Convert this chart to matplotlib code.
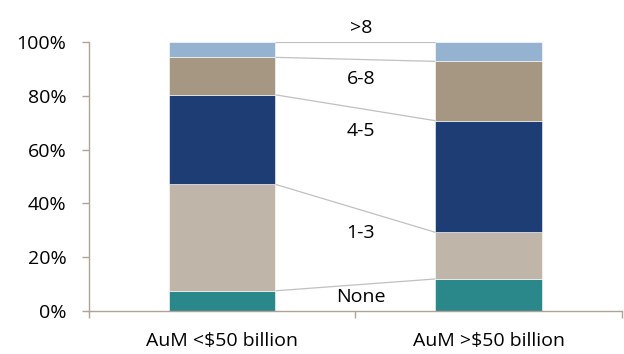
import matplotlib
matplotlib.use("Agg")
import matplotlib.pyplot as plt
import numpy as np
from matplotlib.ticker import PercentFormatter

categories = ["AuM <$50 billion", "AuM >$50 billion"]
segments = ["None", "1-3", "4-5", "6-8", ">8"]
small_aum = [7.6, 39.5, 33.2, 13.9, 5.8]
large_aum = [12.0, 17.3, 41.4, 22.0, 7.3]
colors = ["#2A878A", "#BFB6A9", "#1E3D75", "#A59782", "#95B3D0"]
yticks = [0, 20, 40, 60, 80, 100]
# label positions (value axis) for segment names between bars
label_y = [5.3, 29, 67, 86, 105]

plt.rcParams["font.family"] = ["Open Sans", "DejaVu Sans"]
axis_color = "#B0A395"
fs = 14

fig = plt.figure(figsize=(6.24, 3.54), dpi=100)
ax = fig.add_axes([0.142, 0.1206, 0.855, 0.7616])

values = np.array([small_aum, large_aum])
x = np.arange(len(categories))
width = 0.4
bottoms = np.zeros(len(categories))
for i, seg in enumerate(segments):
    ax.bar(x, values[:, i], width, bottom=bottoms, color=colors[i],
           edgecolor="white", linewidth=0.4, zorder=2)
    tops = bottoms + values[:, i]
    ax.plot([x[0] + width / 2, x[1] - width / 2], [tops[0], tops[1]],
            color="#C0C0C0", linewidth=0.9, zorder=1)
    ax.text(0.52, label_y[i], seg, ha="center", va="center",
            fontsize=fs, color="black")
    bottoms = tops

ax.set_xlim(-0.5, 1.5)
ax.set_ylim(0, 100)
ax.set_yticks(yticks)
ax.yaxis.set_major_formatter(PercentFormatter(decimals=0))
ax.set_xticks(x)
ax.set_xticklabels(categories)
ax.set_xticks([-0.5, 0.5, 1.5], minor=True)

for side in ["top", "right"]:
    ax.spines[side].set_visible(False)
for side in ["left", "bottom"]:
    ax.spines[side].set_color(axis_color)
    ax.spines[side].set_linewidth(1.0)

ax.tick_params(axis="y", length=5, width=1, color=axis_color, labelsize=fs, pad=11)
ax.tick_params(axis="x", which="major", length=0, labelsize=fs, pad=15)
ax.tick_params(axis="x", which="minor", length=5, width=1, color=axis_color)

fig.savefig("out.png", dpi=100)
